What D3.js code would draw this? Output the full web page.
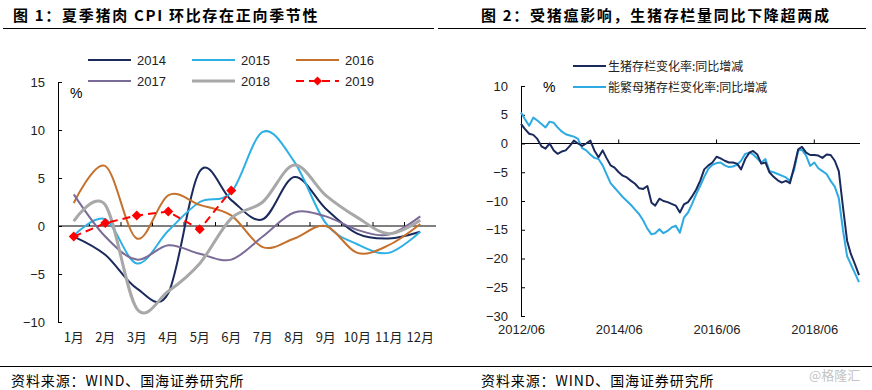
<!DOCTYPE html>
<html>
<head>
<meta charset="utf-8">
<script src="https://cdn.jsdelivr.net/npm/d3@7"></script>
<style>
  body { margin: 0; background: #fff; }
  svg { display: block; font-family: "Liberation Sans", Arial, sans-serif; }
</style>
</head>
<body>
<svg id="chart" width="872" height="390"></svg>
<script>
// left panel: pork CPI month on month, one line per year
var months = ['1月', '2月', '3月', '4月', '5月', '6月', '7月', '8月', '9月', '10月', '11月', '12月'];
var years = ['2014', '2015', '2016', '2017', '2018', '2019'];
var v2014 = [-1.1, -3.0, -6.5, -7.0, 5.7, 2.7, 0.7, 5.1, 1.8, -0.8, -1.3, -0.6];
var v2015 = [-1.0, 0.7, -3.9, -0.5, 2.5, 3.5, 9.8, 6.7, 0.3, -1.9, -2.8, -0.6];
var v2016 = [2.4, 6.25, -1.3, 3.2, 2.2, 1.1, -2.2, -1.3, 0.0, -2.8, -2.0, 0.2];
var v2017 = [3.3, -1.1, -3.5, -2.0, -2.9, -3.5, -1.1, 1.4, 1.0, -0.4, -0.9, 1.0];
var v2018 = [0.5, 2.2, -8.6, -6.8, -3.9, 0.8, 2.5, 6.35, 3.2, 0.9, -0.8, 0.6];
var v2019 = [-1.1, 0.3, 1.1, 1.5, -0.35, 3.7];
var leftTicks = [-10, -5, 0, 5, 10, 15];

// right panel: hog stock yoy, 2012/06 .. 2019/05
var rightStart = '2012-06';
var rightTicks = [-30, -25, -20, -15, -10, -5, 0, 5, 10];
var rightDateTicks = ['2012-06', '2014-06', '2016-06', '2018-06'];
var hogNames = ['生猪存栏变化率:同比增减', '能繁母猪存栏变化率:同比增减'];
var hogStock = [3.4, 2.5, 1.7, 1.5, 0.8, -0.5, -0.9, 0.0, -1.2, -1.8,
  -1.4, -1.2, -0.4, 0.5, 0.0, -0.4, 0.0, 0.5, -1.2, -2.4,
  -1.2, -2.5, -3.8, -4.2, -5.0, -5.6, -5.9, -6.5, -7.0, -7.8,
  -7.9, -7.4, -10.3, -10.8, -9.6, -10.0, -10.2, -10.5, -10.8, -12.0,
  -10.6, -10.2, -9.2, -8.0, -6.4, -4.5, -3.8, -3.3, -2.3, -2.6,
  -3.0, -3.3, -3.3, -3.5, -4.5, -2.7, -1.6, -1.3, -1.9, -3.5,
  -3.3, -5.0, -5.8, -6.4, -6.8, -6.5, -6.9, -4.1, -1.0, -0.6,
  -1.6, -2.0, -2.0, -2.1, -2.5, -1.9, -2.0, -3.0, -4.8, -11.0,
  -16.9, -19.2, -21.0, -22.9];
var sowStock = [5.4, 4.2, 3.1, 4.5, 4.0, 3.4, 2.8, 3.8, 3.6, 2.8,
  2.1, 1.6, 1.4, 1.2, 0.8, -0.8, -1.2, -1.9, -2.5, -2.7,
  -3.8, -5.3, -6.9, -7.7, -8.5, -9.3, -10.0, -10.7, -11.5, -12.3,
  -13.4, -14.8, -15.8, -15.6, -14.9, -15.6, -15.2, -14.6, -14.3, -15.5,
  -12.9, -12.0, -10.5, -8.8, -7.3, -5.8, -4.4, -3.7, -3.4, -3.3,
  -3.8, -4.1, -4.0, -3.7, -3.0, -1.8, -1.6, -1.9, -2.6, -3.3,
  -2.7, -4.8, -5.0, -5.3, -5.6, -5.9, -6.5, -4.6, -1.2, -1.1,
  -2.1, -3.9, -3.3, -4.3, -4.8, -5.3, -6.5, -7.5, -9.5, -15.0,
  -19.6, -21.0, -22.6, -24.1];

var yearColors = ['#1b2a5c', '#2eb0e4', '#c5712c', '#7b6b98', '#a8a8a8', '#ff0000'];
var hogColors = ['#1b2a5c', '#2eaae2'];
var cjk = '"Noto Sans CJK SC", "Noto Sans", sans-serif';

var svg = d3.select('#chart');

// titles + rules
var heads = [
  {text: '图 1：夏季猪肉 CPI 环比存在正向季节性', x: 13, x1: 3, x2: 434},
  {text: '图 2：受猪瘟影响，生猪存栏量同比下降超两成', x: 481, x2: 866, x1: 438}
];
heads.forEach(function(h){
  svg.append('text')
    .attr('x', h.x).attr('y', 21)
    .style('font-family', cjk).style('font-weight', 700)
    .style('font-size', '15px').style('letter-spacing', '1.7px')
    .text(h.text);
  svg.append('line')
    .attr('x1', h.x1).attr('x2', h.x2).attr('y1', 28.5).attr('y2', 28.5)
    .attr('stroke', '#000').attr('stroke-width', 1);
});

svg.append('line')
  .attr('x1', 0).attr('x2', 872).attr('y1', 366.5).attr('y2', 366.5)
  .attr('stroke', '#000');
[11, 481].forEach(function(x){
  svg.append('text').attr('x', x).attr('y', 386)
    .style('font-family', cjk).style('font-size', '14px').style('letter-spacing', '0.9px')
    .text('资料来源：WIND、国海证券研究所');
});
svg.append('text').attr('x', 809).attr('y', 380)
  .style('font-family', cjk).style('font-size', '13px').attr('fill', '#c4c4c4')
  .text('@格隆汇');

// ---------- left chart ----------
var xL = d3.scaleBand().domain(months).range([58, 436]).padding(0);
var yL = d3.scaleLinear().domain([-10, 15]).range([322, 82]);
var gL = svg.append('g');

var axL = gL.append('g').attr('transform', 'translate(58,0)')
  .call(d3.axisLeft(yL).tickValues(leftTicks).tickSizeInner(-4).tickSizeOuter(0).tickPadding(13));
axL.selectAll('text').style('font-size', '13px').attr('fill', '#222');

// month labels under the plot, ticks sit on the zero line
var axLx = gL.append('g').attr('transform', 'translate(0,' + yL(-10) + ')')
  .call(d3.axisBottom(xL).tickSize(0).tickPadding(11));
axLx.select('.domain').remove();
axLx.selectAll('text').style('font-family', cjk).style('font-size', '13px').attr('fill', '#222');

gL.append('line')
  .attr('x1', xL.range()[0]).attr('x2', xL.range()[1])
  .attr('y1', yL(0)).attr('y2', yL(0)).attr('stroke', '#000');
gL.selectAll('.bt').data(months.slice(1)).enter().append('line')
  .attr('x1', function(d){ return xL(d); }).attr('x2', function(d){ return xL(d); })
  .attr('y1', yL(0)).attr('y2', yL(0) - 4).attr('stroke', '#000');

gL.append('text').attr('x', 70).attr('y', 98).style('font-size', '14px').text('%');

var lineL = d3.line()
  .x(function(d, i){ return xL(months[i]) + xL.bandwidth() / 2; })
  .y(function(d){ return yL(d); });

var smooth = [v2014, v2015, v2016, v2017, v2018];
smooth.forEach(function(vals, k){
  gL.append('path')
    .datum(vals)
    .attr('fill', 'none')
    .attr('stroke', yearColors[k])
    .attr('stroke-width', k == 4 ? 3 : 2)
    .attr('d', lineL.curve(d3.curveCardinal.tension(0)));
});

gL.append('path')
  .datum(v2019)
  .attr('fill', 'none').attr('stroke', yearColors[5]).attr('stroke-width', 2)
  .attr('stroke-dasharray', '8,5')
  .attr('d', lineL.curve(d3.curveLinear));
gL.selectAll('.dia').data(v2019).enter().append('path')
  .attr('d', d3.symbol().type(d3.symbolSquare).size(50))
  .attr('fill', yearColors[5])
  .attr('transform', function(d, i){
    return 'translate(' + (xL(months[i]) + xL.bandwidth() / 2) + ',' + yL(d) + ') rotate(45)';
  });

// legend, 3 columns 2 rows
years.forEach(function(yr, i){
  var lx = 88 + (i % 3) * 104, ly = i < 3 ? 60 : 81;
  gL.append('line')
    .attr('x1', lx).attr('x2', lx + 43).attr('y1', ly).attr('y2', ly)
    .attr('stroke', yearColors[i]).attr('stroke-width', i == 4 ? 3 : 2)
    .attr('stroke-dasharray', i == 5 ? '8,5' : null);
  if (i == 5) {
    gL.append('path').attr('d', d3.symbol().type(d3.symbolSquare).size(40))
      .attr('fill', yearColors[5])
      .attr('transform', 'translate(' + (lx + 21.5) + ',' + ly + ') rotate(45)');
  }
  gL.append('text').attr('x', lx + 49).attr('y', ly + 5)
    .style('font-size', '13px').attr('fill', '#222').text(yr);
});

// ---------- right chart ----------
var parseM = d3.timeParse('%Y-%m');
var dates = d3.timeMonth.range(parseM(rightStart), d3.timeMonth.offset(parseM(rightStart), hogStock.length));
var xR = d3.scaleTime().domain(d3.extent(dates)).range([521, 859]);
var yR = d3.scaleLinear().domain([-30, 10]).range([316, 86]);
var gR = svg.append('g');

var axR = gR.append('g').attr('transform', 'translate(521,0)')
  .call(d3.axisLeft(yR).tickValues(rightTicks).tickSizeInner(-4).tickSizeOuter(0).tickPadding(13));
axR.selectAll('text').style('font-size', '13px').attr('fill', '#222');

var tickDates = rightDateTicks.map(parseM);
var axRx = gR.append('g').attr('transform', 'translate(0,' + yR(-30) + ')')
  .call(d3.axisBottom(xR).tickValues(tickDates).tickSize(0).tickPadding(9)
    .tickFormat(d3.timeFormat('%Y/%m')));
axRx.select('.domain').remove();
axRx.selectAll('text').style('font-size', '13px').attr('fill', '#222');

gR.append('line')
  .attr('x1', xR.range()[0]).attr('x2', xR.range()[1] + 1)
  .attr('y1', yR(0)).attr('y2', yR(0)).attr('stroke', '#000');
gR.selectAll('.bt').data(tickDates.slice(1)).enter().append('line')
  .attr('x1', function(d){ return xR(d); }).attr('x2', function(d){ return xR(d); })
  .attr('y1', yR(0)).attr('y2', yR(0) - 4).attr('stroke', '#000');

gR.append('text').attr('x', 543).attr('y', 92).style('font-size', '14px').text('%');

var lineR = d3.line()
  .x(function(d, i){ return xR(dates[i]); })
  .y(function(d){ return yR(d); });

[sowStock, hogStock].forEach(function(vals, k){
  gR.append('path').datum(vals)
    .attr('fill', 'none')
    .attr('stroke', k == 0 ? hogColors[1] : hogColors[0])
    .attr('stroke-width', 2)
    .attr('stroke-linejoin', 'round')
    .attr('d', lineR);
});

hogNames.forEach(function(name, i){
  var ly = 66 + i * 21;
  gR.append('line').attr('x1', 573).attr('x2', 606).attr('y1', ly).attr('y2', ly)
    .attr('stroke', hogColors[i]).attr('stroke-width', 2);
  gR.append('text').attr('x', 608).attr('y', ly + 4.5)
    .style('font-family', cjk).style('font-size', '12px').attr('fill', '#222').text(name);
});
</script>
</body>
</html>
